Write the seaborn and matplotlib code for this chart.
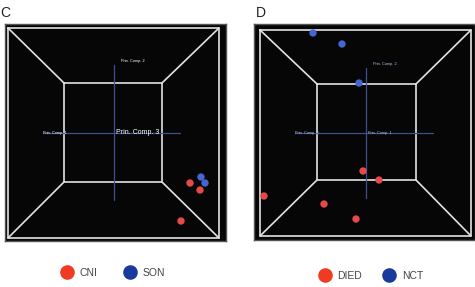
import matplotlib
matplotlib.use("Agg")
import matplotlib.pyplot as plt
from matplotlib.lines import Line2D
import seaborn as sns
import pandas as pd

sns.set_theme(style="white")
plt.rcParams['font.family'] = ['Liberation Sans', 'DejaVu Sans']

# Panel C data (PC scores, arbitrary units)
c_groups = ["CNI", "SON", "SON", "CNI", "CNI"]
c_pc1 = [7.6, 8.7, 9.1, 8.6, 6.7]
c_pc2 = [-5.0, -4.4, -5.0, -5.7, -8.8]

# Panel D data
d_groups = ["NCT", "NCT", "NCT", "DIED", "DIED", "DIED", "DIED", "DIED"]
d_pc1 = [-5.3, -2.4, -0.7, -0.3, 1.3, -10.2, -4.2, -1.0]
d_pc2 = [10.0, 8.9, 5.0, -3.8, -4.7, -6.3, -7.1, -8.6]

RED = "#e44a48"
BLUE = "#4566d2"
LRED = "#f23a22"
LBLUE = "#173a9c"

W, H = 475, 287
fig = plt.figure(figsize=(W / 100, H / 100), dpi=100)
fig.patch.set_facecolor("white")


def draw_panel(rect, xlim, ylim, outer, inner, vline, hline, df, palette,
               labels, lab_color, big_label):
    ax = fig.add_axes(rect)
    ax.set_facecolor("#060606")
    ax.set_xlim(*xlim)
    ax.set_ylim(*ylim)
    for s in ax.spines.values():
        s.set_color("#555555")
        s.set_linewidth(1.0)
    ax.set_xticks([])
    ax.set_yticks([])
    fc = "#e2e2e2"
    lw = 1.2
    ox0, ox1, oy0, oy1 = outer
    ix0, ix1, iy0, iy1 = inner
    ax.plot([ox0, ox1, ox1, ox0, ox0], [oy1, oy1, oy0, oy0, oy1], color=fc, lw=lw)
    ax.plot([ix0, ix1, ix1, ix0, ix0], [iy1, iy1, iy0, iy0, iy1], color=fc, lw=lw)
    for (a, b), (c, d) in [((ox0, oy1), (ix0, iy1)), ((ox1, oy1), (ix1, iy1)),
                           ((ox0, oy0), (ix0, iy0)), ((ox1, oy0), (ix1, iy0))]:
        ax.plot([a, c], [b, d], color=fc, lw=lw)
    ax.plot([0, 0], vline, color="#404e92", lw=0.9)
    ax.plot(hline, [0, 0], color="#404e92", lw=0.9)
    ax.text(0.7, vline[1] + 0.2, labels[0], color=lab_color, fontsize=2.8,
            ha="left", va="bottom")
    ax.text(hline[0], 0, labels[1], color=lab_color, fontsize=2.8,
            ha="left", va="center")
    ax.text(0.2, 0, labels[2], color=lab_color,
            fontsize=5.0 if big_label else 2.8, ha="left", va="center")
    sns.scatterplot(data=df, x="PC1", y="PC2", hue="Group", palette=palette,
                    s=28, edgecolor="none", legend=False, ax=ax, zorder=5)
    ax.set_xlabel("")
    ax.set_ylabel("")
    return ax


dfc = pd.DataFrame({"PC1": c_pc1, "PC2": c_pc2, "Group": c_groups})
dfd = pd.DataFrame({"PC1": d_pc1, "PC2": d_pc2, "Group": d_groups})

draw_panel([5 / W, (H - 241) / H, 221 / W, 217 / H], (-10.9, 11.2), (-10.8, 10.9),
           (-10.6, 10.5, -10.5, 10.5), (-5.0, 4.8, -4.9, 5.0),
           (-6.7, 6.8), (-7.1, 6.6), dfc, {"CNI": RED, "SON": BLUE},
           ["Prin. Comp. 2", "Prin. Comp. 1", "Prin. Comp. 3"], "white", True)

draw_panel([254 / W, (H - 240) / H, 221 / W, 216 / H], (-11.2, 10.9), (-10.7, 10.9),
           (-10.6, 10.5, -10.3, 10.3), (-4.9, 5.0, -4.7, 4.9),
           (-6.5, 6.5), (-7.1, 6.7), dfd, {"DIED": RED, "NCT": BLUE},
           ["Prin. Comp. 2", "Prin. Comp. 3", "Prin. Comp. 1"], "#b8c2e8", False)

fig.text(0 / W, 1 - 13 / H, "C", fontsize=10, color="#222222", va="center", ha="left")
fig.text(256 / W, 1 - 13 / H, "D", fontsize=10, color="#222222", va="center", ha="left")


def legend(handles_labels, cx, cy, cs):
    handles = [Line2D([], [], marker="o", ls="", markersize=10.5, color=c,
                      markeredgecolor="none") for _, c in handles_labels]
    fig.legend(handles, [l for l, _ in handles_labels], loc="center",
               bbox_to_anchor=(cx / W, 1 - cy / H), ncol=2, frameon=False,
               fontsize=7.5, handletextpad=0.6, columnspacing=cs,
               labelcolor="#444444", handlelength=1.2, borderpad=0,
               borderaxespad=0)


legend([("CNI", LRED), ("SON", LBLUE)], 113, 273, 2.6)
legend([("DIED", LRED), ("NCT", LBLUE)], 371, 276, 2.0)

fig.savefig("out.png", dpi=100, facecolor="white")
